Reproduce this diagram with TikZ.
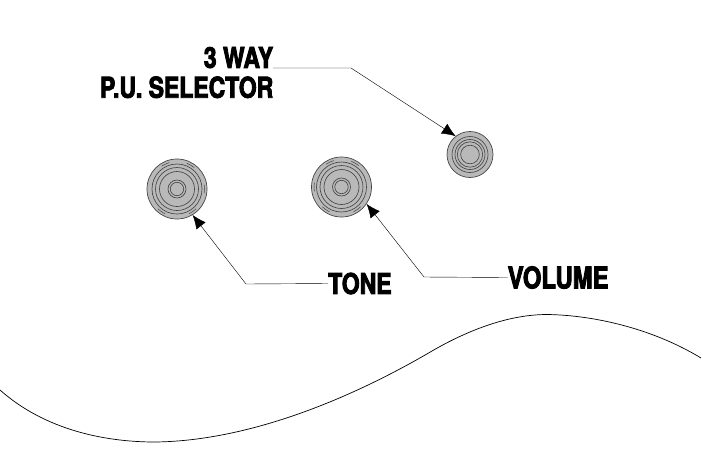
\documentclass[tikz,border=0pt]{standalone}
\usepackage{fontspec}
\setmainfont{TeX Gyre Heros}
\usepackage{xcolor}
\usepackage{tikz}
\usetikzlibrary{arrows.meta,positioning}
\definecolor{knobfill}{HTML}{B9B9B9}
\definecolor{knobline}{HTML}{454545}
\newfontfamily\labelfont[FakeStretch=0.80,FakeBold=3]{TeX Gyre Heros Bold}

\begin{document}
\begin{tikzpicture}[
        x=0.03cm,y=-0.03cm,
        knob/.style={
            draw=knobline,
            circle,
            inner sep=0pt,
            fill=knobfill,
            line width=0.6pt
        },
        ring/.style={draw=knobline,line width=0.55pt},
        notch/.style={draw=knobline,line width=0.45pt},
        tag/.style={
            font=\labelfont\fontsize{24.5}{25.5}\selectfont,
            inner sep=0pt,
            align=right
        },
        line/.style={-{Latex[length=4.1mm,width=3.5mm]},line width=0.35pt,black},
        body/.style={line width=0.6pt,black}
    ]
        \useasboundingbox (0,0) rectangle (703,468);

        \node[knob, minimum size=1.8cm] (toneknob) at (177,189) {};
        \node[knob, minimum size=1.8cm] (volumeknob) at (341.5,187) {};
        \node[knob, minimum size=1.38cm] (selectorknob) at (470,154.5) {};

        \draw[ring] (toneknob.center) circle (25) circle (21.5) circle (17.5) circle (9) circle (6.7);
        \draw[ring] (volumeknob.center) circle (25) circle (21.5) circle (17.5) circle (9) circle (6.7);
        \draw[ring] (selectorknob.center) circle (18) circle (15) circle (12.7) circle (9.3);

        % small notches on the outer ring
        \draw[notch] (toneknob.center) ++(-124:27.5) arc (-124:-106:27.5);
        \draw[notch] (toneknob.center) ++(-69:27.5) arc (-69:-51:27.5);
        \draw[notch] (toneknob.center) ++(-9:27.5) arc (-9:9:27.5);
        \draw[notch] (toneknob.center) ++(46:27.5) arc (46:64:27.5);
        \draw[notch] (toneknob.center) ++(116:27.5) arc (116:134:27.5);
        \draw[notch] (volumeknob.center) ++(-124:27.5) arc (-124:-106:27.5);
        \draw[notch] (volumeknob.center) ++(-69:27.5) arc (-69:-51:27.5);
        \draw[notch] (volumeknob.center) ++(171:27.5) arc (171:189:27.5);
        \draw[notch] (volumeknob.center) ++(46:27.5) arc (46:64:27.5);
        \draw[notch] (volumeknob.center) ++(116:27.5) arc (116:134:27.5);

        \node[tag, anchor=east] (selector) at (273.5,72.5) {3 WAY\\P.U. SELECTOR};
        \node[tag, anchor=west] (tone) at (328,283.5) {TONE};
        \node[tag, anchor=west, font=\labelfont\fontsize{25.5}{27}\selectfont] (volume) at (507.5,277.5) {VOLUME};

        \coordinate (selectorbend) at (351,68);
        \coordinate (tonebend) at (246,284);
        \coordinate (volumebend) at (424,277);
        \coordinate (selectorstart) at (273,68);

        \draw[line] (selectorstart) -- (selectorbend) -- (selectorknob.128);
        \draw[line] (tone.west) -- (tonebend) -- (toneknob.-59);
        \draw[line] (volume.west) -- (volumebend) -- (volumeknob.-34);

        \draw[body] (0,390) .. controls (45,430) and (105,442) .. (155,442)
            .. controls (245,441) and (345,402) .. (432,351)
            .. controls (470,329) and (510,314.5) .. (547,314.5)
            .. controls (590,315) and (650,327) .. (701,358);
    \end{tikzpicture}
\end{document}
